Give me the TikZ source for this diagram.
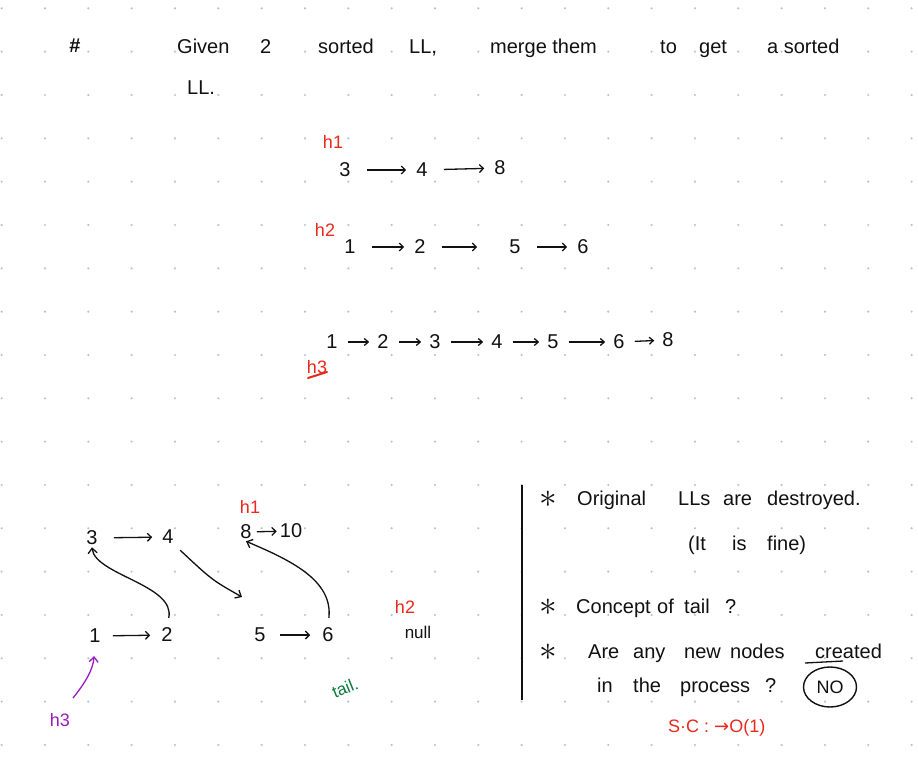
\documentclass[tikz,border=0pt]{standalone}
\usepackage{fontspec}
\setmainfont{Liberation Sans}
\newfontfamily\djv{DejaVu Sans}
\usetikzlibrary{arrows.meta,shapes.geometric}
\definecolor{dotc}{HTML}{B4C3DC}
\definecolor{inkred}{HTML}{E8291C}
\definecolor{inkgreen}{HTML}{0B7A3B}
\definecolor{inkpurple}{HTML}{9A1CC0}
\definecolor{ink}{HTML}{111111}
\tikzset{
  wd/.style={anchor=base west, inner sep=0pt, font=\fontsize{20}{24}\selectfont, text=ink},
  dg/.style={inner sep=2pt, font=\fontsize{20}{24}\selectfont, text=ink},
  lbl/.style={inner sep=0pt, font=\fontsize{18}{22}\selectfont},
  star/.style={inner sep=0pt, scale=1.7, font=\fontsize{20}{24}\selectfont, text=ink},
  lnk/.style={draw=ink, line width=1.3pt, -{Straight Barb[length=4pt,width=8pt]}, shorten <=14pt, shorten >=8pt},
  lnks/.style={draw=ink, line width=1.3pt, -{Straight Barb[length=4pt,width=7pt]}, shorten <=8pt, shorten >=6pt},
  curvelink/.style={draw=ink, line width=1.3pt, -{Straight Barb[length=5pt,width=9pt]}},
}
\begin{document}
\begin{tikzpicture}[x=1pt,y=-1pt]
\fill[white] (0,0) rectangle (918,768);
\useasboundingbox (0,0) rectangle (918,768);
% dot grid
\foreach \i in {0,...,21}{\foreach \j in {0,...,17}{
  \fill[dotc] ({1.67+43.33*\i},{8.33+43.33*\j}) circle[radius=1.2pt];}}

% title
\node[inner sep=0pt, font=\bfseries\fontsize{20}{22}\selectfont, text=ink] (hash) at (75,46) {\#};
\node[wd] (t1) at (177,53) {Given};
\node[wd] (t2) at (260,53) {2};
\node[wd] (t3) at (318,53) {sorted};
\node[wd] (t4) at (409,53) {LL,};
\node[wd] (t5) at (490,53) {merge them};
\node[wd] (t6) at (660,53) {to};
\node[wd] (t7) at (699,53) {get};
\node[wd] (t8) at (767,53) {a sorted};
\node[wd] (t9) at (187,94) {LL.};

% list 1
\node[lbl, text=inkred] (h1) at (333,142) {h1};
\node[dg] (a3) at (345,170) {3};
\node[dg] (a4) at (422,170) {4};
\node[dg] (a8) at (500,168) {8};
\draw[lnk] (a3) -- (a4);
\draw[lnk] (a4) -- (a8);

% list 2
\node[lbl, text=inkred] (h2) at (325,230) {h2};
\node[dg] (b1) at (350,247) {1};
\node[dg] (b2) at (420,247) {2};
\node[dg] (b5) at (515,247) {5};
\node[dg] (b6) at (583,247) {6};
\draw[lnk] (b1) -- (b2);
\draw[lnk, shorten >=30pt] (b2) -- (b5);
\draw[lnk] (b5) -- (b6);

% merged list
\node[dg] (m1) at (332,342) {1};
\node[dg] (m2) at (383,342) {2};
\node[dg] (m3) at (435,342) {3};
\node[dg] (m4) at (497,342) {4};
\node[dg] (m5) at (553,342) {5};
\node[dg] (m6) at (619,342) {6};
\node[dg] (m8) at (668,340) {8};
\draw[lnks] (m1) -- (m2);
\draw[lnks] (m2) -- (m3);
\draw[lnks] (m3) -- (m4);
\draw[lnks] (m4) -- (m5);
\draw[lnks] (m5) -- (m6);
\draw[lnks] (m6) -- (m8);
\node[lbl, text=inkred] (h3) at (317,367) {h3};
\draw[inkred, line width=2pt, line cap=round] (308,378) -- (327,372);

% lower-left diagram
\node[lbl, text=inkred] (h1b) at (250,507) {h1};
\node[dg] (c3) at (92,538) {3};
\node[dg] (c4) at (168,537) {4};
\node[dg] (c8) at (246,532) {8};
\node[dg] (c10) at (291,531) {10};
\draw[lnk] (c3) -- (c4);
\draw[lnk, shorten <=3pt, shorten >=1pt] (c8) -- (c10);

\node[dg] (d1) at (95,636) {1};
\node[dg] (d2) at (167,635) {2};
\node[dg] (d5) at (260,635) {5};
\node[dg] (d6) at (328,635) {6};
\draw[lnk, shorten <=10pt, shorten >=9pt] (d1) -- (d2);
\draw[lnk, shorten <=12pt, shorten >=10pt] (d5) -- (d6);

\coordinate (e5) at (242,597);
\draw[curvelink, shorten <=8pt] (d2.north) .. controls (176,585) and (95,575) .. (c3.south);
\draw[curvelink, shorten <=6pt] (c4.south east) .. controls (212,580) .. (e5);
\draw[curvelink, shorten <=8pt] (d6.north) .. controls (333,580) and (290,560) .. (c8.south);

\node[lbl, text=inkred] (h2b) at (405,607) {h2};
\node[lbl, text=ink, font=\fontsize{17}{20}\selectfont] (null) at (418,632) {null};
\node[lbl, text=inkgreen, rotate=22, font=\fontsize{17}{20}\selectfont] (tail) at (345,688) {tail.};

\node[lbl, text=inkpurple] (h3b) at (60,720) {h3};
\coordinate (p0) at (73,698);
\draw[inkpurple, line width=1.3pt, -{Straight Barb[length=5pt,width=9pt]}, shorten >=11pt] (p0) .. controls (85,683) and (93,670) .. (d1.south);

% right block
\draw[ink, line width=1.6pt] (522,485) coordinate (v0) -- (522,700) coordinate (v1);

\node[star] (s1) at (548,499) {$\ast$};
\node[wd] (r1a) at (577,505) {Original};
\node[wd] (r1b) at (678,505) {LLs};
\node[wd] (r1c) at (723,505) {are};
\node[wd] (r1d) at (767,505) {destroyed.};

\node[wd] (r2a) at (688,550) {(It};
\node[wd] (r2b) at (732,550) {is};
\node[wd] (r2c) at (767,550) {fine)};

\node[star] (s2) at (548,607) {$\ast$};
\node[wd] (r3a) at (576,613) {Concept};
\node[wd] (r3b) at (657,613) {of};
\node[wd] (r3c) at (684,613) {tail};
\node[wd] (r3d) at (725,613) {?};

\node[star] (s3) at (548,652) {$\ast$};
\node[wd] (r4a) at (588,658) {Are};
\node[wd] (r4b) at (633,658) {any};
\node[wd] (r4c) at (684,658) {new};
\node[wd] (r4d) at (730,658) {nodes};
\node[wd] (r4e) at (815,658) {created};
\draw[ink, line width=1.3pt] (805,663) -- (843,661);

\node[wd] (r5a) at (597,692) {in};
\node[wd] (r5b) at (633,692) {the};
\node[wd] (r5c) at (680,692) {process};
\node[wd] (r5d) at (765,692) {?};
\node[draw=ink, line width=1.4pt, ellipse, minimum width=53pt, minimum height=40pt, inner sep=0pt, font=\fontsize{18}{20}\selectfont, text=ink] (no) at (830,687) {NO};

\node[wd, text=inkred, font=\fontsize{18}{22}\selectfont] (sc) at (668,732) {S·C : {\djv →}O(1)};
\end{tikzpicture}
\end{document}
